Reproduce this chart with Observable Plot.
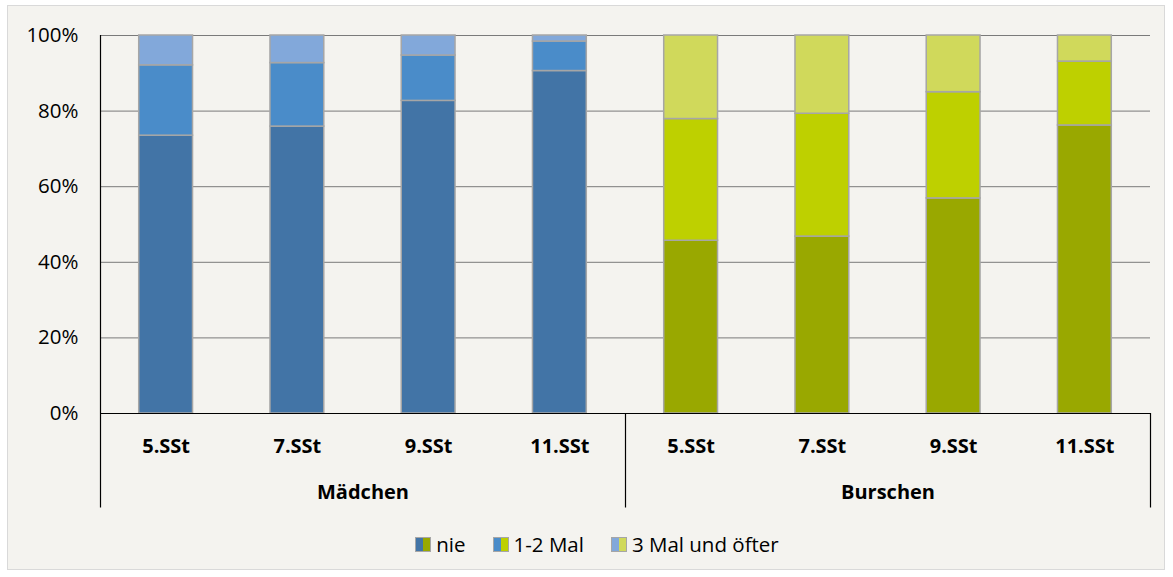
<!DOCTYPE html>
<html>
<head>
<meta charset="utf-8">
<script src="https://cdn.jsdelivr.net/npm/d3@7"></script>
<script src="https://cdn.jsdelivr.net/npm/@observablehq/plot@0.6"></script>
<style>
  html, body { margin: 0; padding: 0; background: #ffffff; }
  body { width: 1173px; height: 577px; position: relative; overflow: hidden; font-family: "Open Sans", sans-serif; }
  #frame { position: absolute; left: 7px; top: 5px; width: 1156px; height: 563px; background: #f4f3ef; border: 1px solid #d9d9d9; }
  #chart { position: absolute; left: 0; top: 0; }
  #legend { position: absolute; left: 0; width: 1173px; top: 530px; display: flex; justify-content: center; font-size: 20.5px; color: #000; padding-left: 48px; box-sizing: border-box; }
  .item { display: flex; align-items: center; margin-right: 27px; }
  .sw { width: 14px; height: 13px; border: 1px solid #a6a6a6; display: flex; margin-right: 5px; }
  .sw span { flex: 1; }
</style>
</head>
<body>
<div id="frame"></div>
<div id="chart"></div>
<div id="legend"></div>
<script>
// Grades and groups along the category axis
const grades = ["5.SSt", "7.SSt", "9.SSt", "11.SSt"];
const groups = ["Mädchen", "Burschen"];
const levels = ["nie", "1-2 Mal", "3 Mal und öfter"];

// Shares in percent per grade
const maedchenNie = [73.5, 75.9, 82.7, 90.6];
const maedchen12 = [18.6, 16.8, 12.0, 7.8];
const maedchen3 = [7.9, 7.3, 5.3, 1.6];
const burschenNie = [45.7, 46.8, 56.9, 76.2];
const burschen12 = [32.2, 32.5, 28.1, 16.9];
const burschen3 = [22.1, 20.7, 15.0, 6.9];

const yTicks = [0, 20, 40, 60, 80, 100];

// Colours per group, one per level
const maedchenColors = ["#4274a6", "#4a8cc9", "#82a8da"];
const burschenColors = ["#99a800", "#bed000", "#d0d95b"];

const series = {
  "Mädchen": [maedchenNie, maedchen12, maedchen3],
  "Burschen": [burschenNie, burschen12, burschen3]
};
const palette = {"Mädchen": maedchenColors, "Burschen": burschenColors};

// Long table: one row per group, grade and level
const rows = [];
const labels = [];
groups.forEach((g, gi) => {
  grades.forEach((grade, k) => {
    const i = gi * grades.length + k;
    labels.push({i, grade});
    levels.forEach((lv, li) => {
      rows.push({i, group: g, grade, level: lv, li, value: series[g][li][k], color: palette[g][li]});
    });
  });
});

const halfBar = 0.205;
const nCats = groups.length * grades.length;
const dividers = d3.range(groups.length + 1).map(j => j * grades.length - 0.5);
const groupCenters = groups.map((g, j) => ({g, x: j * grades.length + (grades.length - 1) / 2}));

const chart = Plot.plot({
  width: 1173,
  height: 520,
  marginLeft: 100,
  marginRight: 23,
  marginTop: 35,
  marginBottom: 107,
  style: {background: "transparent", fontFamily: "Open Sans, sans-serif", fontSize: "20px", color: "#000"},
  x: {type: "linear", domain: [-0.5, nCats - 0.5], axis: null},
  y: {domain: [0, 100], axis: null},
  marks: [
    Plot.ruleY(yTicks.filter(t => t > 0), {x1: -0.5, x2: nCats - 0.5, stroke: "#7a7a7a", strokeWidth: 1}),
    Plot.rectY(rows, Plot.stackY({
      x1: d => d.i - halfBar,
      x2: d => d.i + halfBar,
      y: "value",
      z: "li",
      order: "li",
      fill: d => d.color,
      stroke: "#a6a6a6",
      strokeWidth: 1.5
    })),
    Plot.ruleY([0], {x1: -0.5, x2: nCats - 0.5, stroke: "#000", strokeWidth: 1.2}),
    Plot.ruleX(dividers, {x: d => d, y1: -25, y2: 0, stroke: "#000", strokeWidth: 1.2}),
    Plot.ruleX([-0.5], {y1: 0, y2: 100, stroke: "#000", strokeWidth: 1.2}),
    Plot.axisY({ticks: yTicks, tickFormat: d => d + "%", tickSize: 0, tickPadding: 22, fontSize: 20.5, label: null}),
    Plot.text(labels, {x: "i", y: 0, text: "grade", dy: 33, fontWeight: "bold", fontSize: 20}),
    Plot.text(groupCenters, {x: "x", y: 0, text: "g", dy: 79, fontWeight: "bold", fontSize: 20})
  ]
});
document.getElementById("chart").append(chart);

// Legend: each swatch shows the Mädchen and Burschen colour of a level
const legend = d3.select("#legend");
levels.forEach((lv, li) => {
  const item = legend.append("div").attr("class", "item");
  const sw = item.append("div").attr("class", "sw");
  sw.append("span").style("background", maedchenColors[li]);
  sw.append("span").style("background", burschenColors[li]);
  item.append("div").text(lv);
});
</script>
</body>
</html>
